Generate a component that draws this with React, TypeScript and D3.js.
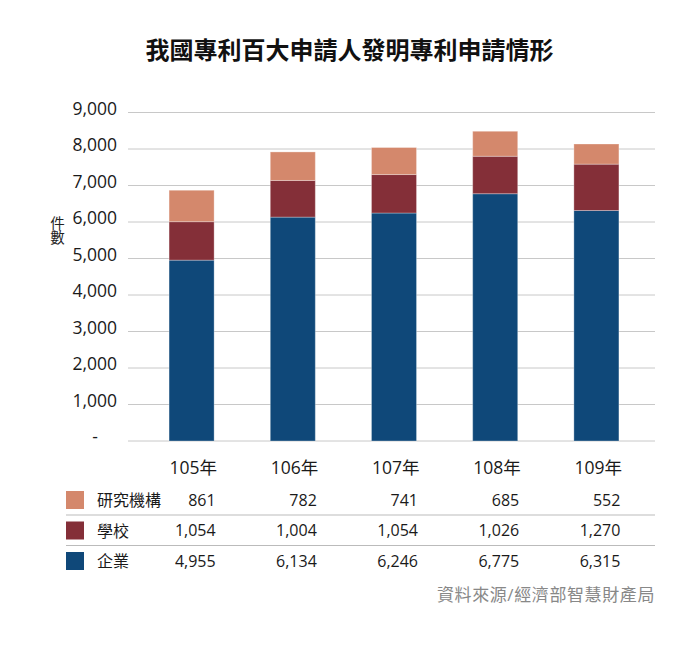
import React, { useEffect } from 'react';
import * as d3 from 'd3';

const years = ['105年', '106年', '107年', '108年', '109年'];
const seriesNames = ['企業', '學校', '研究機構'];
const corporate = [4955, 6134, 6246, 6775, 6315];
const school = [1054, 1004, 1054, 1026, 1270];
const research = [861, 782, 741, 685, 552];
const seriesColors = ['#0f4879', '#842f38', '#d4886c'];
const yTicks = [0, 1000, 2000, 3000, 4000, 5000, 6000, 7000, 8000, 9000];

const W = 698;
const H = 646;
const FONT = '"Open Sans", "Noto Sans CJK TC", sans-serif';

const App: React.FC = () => {
  useEffect(() => {
    document.body.style.margin = '0';
  }, []);

  const rows = years.map((y, i) => ({
    year: y,
    企業: corporate[i],
    學校: school[i],
    研究機構: research[i]
  }));
  const stacked = d3.stack<any>().keys(seriesNames)(rows);

  const x = d3.scaleBand<string>()
    .domain(years)
    .range([141, 647])
    .paddingInner(0.555)
    .paddingOuter(0.2775);

  const y = d3.scaleLinear().domain([0, 9000]).range([441, 112.5]);
  const fmt = d3.format(',');

  // table rows, top to bottom
  const tableRows = [
    { name: '研究機構', values: research, color: seriesColors[2], cy: 500 },
    { name: '學校', values: school, color: seriesColors[1], cy: 530.5 },
    { name: '企業', values: corporate, color: seriesColors[0], cy: 561 }
  ];

  return (
    <svg width={W} height={H} style={{ display: 'block', fontFamily: FONT }}>
      <rect width={W} height={H} fill="#fff" />
      <text x={349.5} y={59} textAnchor="middle" fontSize={24} fontWeight="bold" fill="#111">
        我國專利百大申請人發明專利申請情形
      </text>

      {/* grid + y axis labels */}
      {yTicks.map(t => (
        <g key={t}>
          <line x1={128} x2={655} y1={y(t)} y2={y(t)} stroke="#c8c8c8" strokeWidth={1} />
          <text
            x={t === 0 ? 98 : 117}
            y={y(t) + 2.3}
            textAnchor="end"
            fontSize={17.5}
            fill="#1a1a1a"
          >
            {t === 0 ? '-' : fmt(t)}
          </text>
        </g>
      ))}

      <text
        x={56.5}
        y={216}
        fontSize={14.5}
        fill="#222"
        style={{ writingMode: 'vertical-rl', textOrientation: 'upright' }}
      >
        件數
      </text>

      {/* stacked bars */}
      {stacked.map((s, si) => (
        <g key={s.key} fill={seriesColors[si]}>
          {s.map((d, i) => (
            <rect
              key={i}
              x={x(years[i])}
              y={y(d[1])}
              width={x.bandwidth()}
              height={y(d[0]) - y(d[1])}
              stroke="#ffffff"
              strokeOpacity={0.3}
              strokeWidth={1}
            />
          ))}
        </g>
      ))}

      {/* data table */}
      {years.map(yr => (
        <text
          key={yr}
          x={(x(yr) || 0) + x.bandwidth() + 3}
          y={474}
          textAnchor="end"
          fontSize={17.5}
          fill="#1a1a1a"
        >
          {yr}
        </text>
      ))}

      {tableRows.map((r, ri) => (
        <g key={r.name}>
          <rect x={66} y={r.cy - 9} width={18} height={18} fill={r.color} />
          <text x={97} y={r.cy + 6} fontSize={16} fill="#1a1a1a">{r.name}</text>
          {r.values.map((v, i) => (
            <text
              key={i}
              x={(x(years[i]) || 0) + x.bandwidth() + 1.5}
              y={r.cy + 5.7}
              textAnchor="end"
              fontSize={16}
              fill="#1a1a1a"
            >
              {fmt(v)}
            </text>
          ))}
          {ri < tableRows.length - 1 && (
            <line x1={66} x2={655} y1={r.cy + 15} y2={r.cy + 15} stroke="#bbbbbb" strokeWidth={1} />
          )}
        </g>
      ))}

      <text x={655} y={601} textAnchor="end" fontSize={17} letterSpacing={0.6} fill="#888">
        資料來源/經濟部智慧財產局
      </text>
    </svg>
  );
};

export default App;
